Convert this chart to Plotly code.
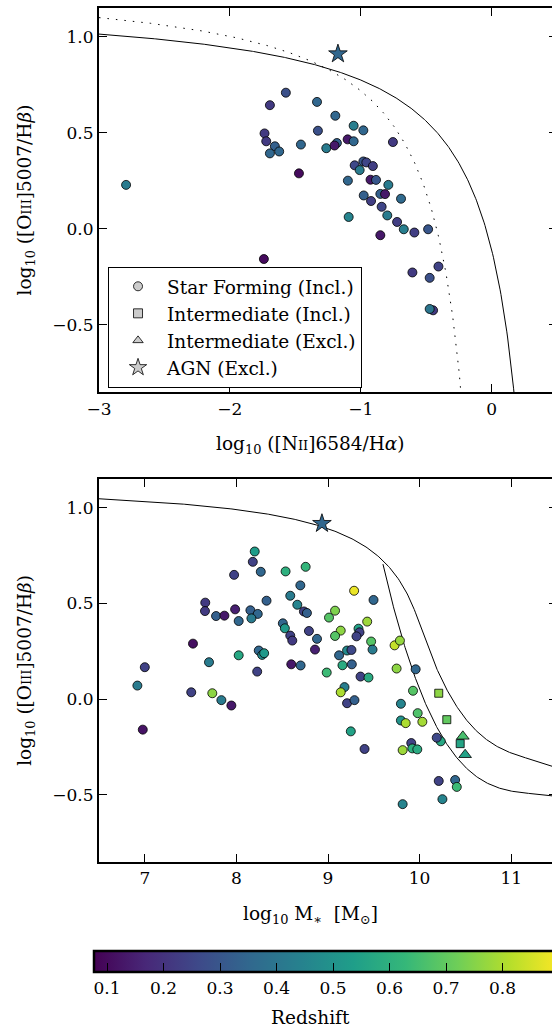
import numpy as np
import plotly.graph_objects as go

FONT = "DejaVu Serif"

# ---------------- data: top panel (BPT) ----------------
bpt_x = [-1.572, -1.694, -1.334, -1.194, -1.054, -0.980, -1.735, -1.327, -1.722, -1.656,
         -1.694, -1.623, -1.457, -1.182, -1.263, -1.200, -1.100, -1.054, -0.754, -1.472,
         -1.046, -0.980, -0.957, -0.907, -1.008, -1.098, -0.925, -0.883, -0.789, -0.850,
         -0.814, -0.977, -0.921, -0.692, -0.840, -1.092, -0.797, -0.722, -0.671, -0.590,
         -0.485, -0.850, -1.740, -0.406, -0.605, -0.473, -0.447, -0.473, -2.793]
bpt_y = [0.709, 0.644, 0.661, 0.589, 0.537, 0.513, 0.497, 0.511, 0.456, 0.430,
         0.393, 0.403, 0.439, 0.447, 0.420, 0.434, 0.466, 0.456, 0.452, 0.289,
         0.331, 0.351, 0.346, 0.327, 0.306, 0.251, 0.256, 0.255, 0.229, 0.182,
         0.181, 0.174, 0.145, 0.157, 0.115, 0.062, 0.070, 0.036, -0.002, -0.019,
         -0.002, -0.033, -0.157, -0.196, -0.227, -0.255, -0.424, -0.417, 0.229]
bpt_z = [0.28, 0.22, 0.35, 0.35, 0.43, 0.35, 0.22, 0.28, 0.22, 0.33,
         0.35, 0.35, 0.35, 0.33, 0.42, 0.13, 0.13, 0.35, 0.22, 0.10,
         0.26, 0.30, 0.25, 0.23, 0.42, 0.35, 0.13, 0.30, 0.42, 0.33,
         0.13, 0.33, 0.23, 0.36, 0.25, 0.45, 0.42, 0.23, 0.43, 0.23,
         0.30, 0.13, 0.10, 0.24, 0.22, 0.28, 0.22, 0.40, 0.42]
bpt_agn_x = [-1.174]
bpt_agn_y = [0.911]
bpt_agn_z = [0.35]

# ---------------- data: bottom panel (MEx) ----------------
mex_x = [8.200, 8.179, 8.266, 7.975, 8.537, 8.756, 8.698, 8.588, 8.665, 8.737,
         8.770, 8.329, 7.660, 7.657, 7.778, 7.869, 7.986, 8.025, 8.153, 8.233,
         8.164, 8.507, 8.529, 8.588, 8.610, 8.792, 8.880, 8.858, 7.526, 8.025,
         8.244, 8.281, 8.303, 7.701, 8.227, 8.599, 8.701, 7.507, 7.737, 7.836,
         7.945, 8.986, 9.077, 9.011, 9.139, 9.077, 9.333, 9.344, 9.311, 9.428,
         9.497, 9.285, 9.471, 9.486, 9.208, 9.256, 9.121, 9.158, 9.260, 9.355,
         9.442, 9.180, 9.139, 9.208, 9.289, 9.249, 9.399, 9.727, 9.785, 9.749,
         9.957, 9.928, 9.796, 9.979, 10.030, 9.796, 9.848, 9.909, 9.815, 9.920,
         9.975, 10.231, 10.187, 10.209, 10.388, 10.406, 10.249, 9.815, 7.000, 6.919,
         6.978]
mex_y = [0.771, 0.717, 0.665, 0.649, 0.667, 0.691, 0.594, 0.540, 0.493, 0.458,
         0.450, 0.514, 0.504, 0.460, 0.434, 0.436, 0.469, 0.408, 0.464, 0.445,
         0.422, 0.396, 0.370, 0.332, 0.306, 0.356, 0.315, 0.259, 0.290, 0.229,
         0.254, 0.231, 0.240, 0.193, 0.144, 0.182, 0.176, 0.036, 0.031, -0.005,
         -0.033, 0.139, 0.462, 0.426, 0.358, 0.330, 0.368, 0.349, 0.328, 0.405,
         0.518, 0.566, 0.301, 0.259, 0.254, 0.257, 0.229, 0.177, 0.182, 0.118,
         0.113, 0.063, 0.036, -0.021, -0.005, -0.168, -0.260, 0.281, 0.306, 0.160,
         0.156, 0.044, -0.024, -0.073, -0.118, -0.111, -0.125, -0.229, -0.266, -0.257,
         -0.262, -0.220, -0.201, -0.427, -0.422, -0.458, -0.522, -0.548, 0.167, 0.071,
         -0.159]
mex_z = [0.53, 0.24, 0.35, 0.24, 0.60, 0.62, 0.35, 0.42, 0.45, 0.24,
         0.33, 0.33, 0.22, 0.22, 0.33, 0.13, 0.15, 0.35, 0.33, 0.35,
         0.42, 0.35, 0.52, 0.24, 0.22, 0.24, 0.35, 0.15, 0.11, 0.57,
         0.35, 0.47, 0.52, 0.42, 0.24, 0.13, 0.35, 0.24, 0.76, 0.42,
         0.13, 0.64, 0.74, 0.68, 0.76, 0.68, 0.55, 0.24, 0.24, 0.78,
         0.35, 0.88, 0.68, 0.42, 0.47, 0.26, 0.35, 0.58, 0.33, 0.24,
         0.58, 0.43, 0.80, 0.24, 0.33, 0.55, 0.24, 0.83, 0.77, 0.76,
         0.35, 0.68, 0.45, 0.67, 0.79, 0.50, 0.80, 0.24, 0.78, 0.60,
         0.58, 0.57, 0.26, 0.24, 0.35, 0.64, 0.45, 0.45, 0.24, 0.42,
         0.12]
mex_int_incl_x = [10.209, 10.297, 10.443]
mex_int_incl_y = [0.031, -0.107, -0.232]
mex_int_incl_z = [0.76, 0.70, 0.56]
mex_int_excl_x = [10.472, 10.497]
mex_int_excl_y = [-0.194, -0.290]
mex_int_excl_z = [0.66, 0.55]
mex_agn_x = [8.934]
mex_agn_y = [0.917]
mex_agn_z = [0.35]

# ---------------- demarcation-line coefficients ----------------
KEWLEY01 = (0.61, 0.47, 1.19)      # y = a/(x-b)+c
KAUFFMANN03 = (0.61, 0.05, 1.30)
MEX_UPPER_LOW = (0.375, 10.5, 1.14)
MEX_UPPER_POLY = [410.24, -109.333, 9.71731, -0.288244]
MEX_LOWER_POLY = [352.066, -93.8249, 8.32651, -0.246416]
MEX_UPPER_BREAK = 10.0
MEX_LOWER_START = 9.6

CB_MIN, CB_MAX = 0.077, 0.9035
CB_TICKS = [0.1, 0.2, 0.3, 0.4, 0.5, 0.6, 0.7, 0.8]
LEGEND_NAMES = ["Star Forming (Incl.)", "Intermediate (Incl.)",
                "Intermediate (Excl.)", "AGN (Excl.)"]
LEGEND_SYMBOLS = ["circle", "square", "triangle-up", "star"]

XLAB_TOP = "log<sub>10</sub> ([N<span style='font-size:13px'>II</span>]6584/H<i>α</i>)"
XLAB_BOT = "log<sub>10</sub> M<sub>∗</sub>\u00a0\u00a0[M<sub>⊙</sub>]"
YLAB = "log<sub>10</sub> ([O<span style='font-size:13px'>III</span>]5007/H<i>β</i>)"
CB_LABEL = "Redshift"


def hyper(x, p):
    a, b, c = p
    return a / (x - b) + c


def poly(x, co):
    return sum(c * x ** i for i, c in enumerate(co))


fig = go.Figure()
line_style = dict(color="black", width=1)

xk = np.linspace(-3, 0.2, 500)
fig.add_trace(go.Scatter(x=xk, y=hyper(xk, KEWLEY01), mode="lines", line=line_style,
                         showlegend=False, hoverinfo="skip", xaxis="x", yaxis="y"))
xa = np.linspace(-3, -0.2, 500)
fig.add_trace(go.Scatter(x=xa, y=hyper(xa, KAUFFMANN03), mode="lines",
                         line=dict(color="black", width=1, dash="1.5px,7px"),
                         showlegend=False, hoverinfo="skip", xaxis="x", yaxis="y"))

xm1 = np.linspace(6.5, MEX_UPPER_BREAK, 300)
xm2 = np.linspace(MEX_UPPER_BREAK, 11.5, 300)
fig.add_trace(go.Scatter(x=np.concatenate([xm1, xm2]),
                         y=np.concatenate([hyper(xm1, MEX_UPPER_LOW), poly(xm2, MEX_UPPER_POLY)]),
                         mode="lines", line=line_style, showlegend=False, hoverinfo="skip",
                         xaxis="x2", yaxis="y2"))
xm3 = np.linspace(MEX_LOWER_START, 11.5, 300)
fig.add_trace(go.Scatter(x=xm3, y=poly(xm3, MEX_LOWER_POLY), mode="lines", line=line_style,
                         showlegend=False, hoverinfo="skip", xaxis="x2", yaxis="y2"))

edge = dict(color="black", width=0.8)


def pts(x, y, z, symbol, size, xa_, ya_):
    return go.Scatter(x=x, y=y, mode="markers", showlegend=False,
                      marker=dict(symbol=symbol, size=size, color=z, coloraxis="coloraxis",
                                  line=edge),
                      xaxis=xa_, yaxis=ya_)


fig.add_trace(pts(bpt_x, bpt_y, bpt_z, "circle", 9, "x", "y"))
fig.add_trace(pts(bpt_agn_x, bpt_agn_y, bpt_agn_z, "star", 14, "x", "y"))
fig.add_trace(pts(mex_x, mex_y, mex_z, "circle", 9, "x2", "y2"))
fig.add_trace(pts(mex_int_incl_x, mex_int_incl_y, mex_int_incl_z, "square", 8, "x2", "y2"))
fig.add_trace(pts(mex_int_excl_x, mex_int_excl_y, mex_int_excl_z, "triangle-up", 11, "x2", "y2"))
fig.add_trace(pts(mex_agn_x, mex_agn_y, mex_agn_z, "star", 14, "x2", "y2"))

for i, (nm, sym) in enumerate(zip(LEGEND_NAMES, LEGEND_SYMBOLS)):
    fig.add_trace(go.Scatter(x=[None], y=[None], mode="markers", name=nm,
                             legendgroup=f"g{i}", showlegend=True,
                             marker=dict(symbol=sym, size=13 if sym == "star" else 9,
                                         color="#cccccc", line=edge),
                             xaxis="x", yaxis="y"))

TICK_SIZE = 17
LABEL_SIZE = 18.5
axis_common = dict(showline=True, linewidth=2, linecolor="black", mirror="allticks",
                   ticks="inside", ticklen=8, tickwidth=1, tickcolor="black",
                   showgrid=False, zeroline=False,
                   tickfont=dict(size=TICK_SIZE, color="black", family=FONT))
title_font = dict(size=LABEL_SIZE, color="black", family=FONT)

fig.update_layout(
    width=565, height=1029,
    margin=dict(l=99, r=8, t=6, b=167),
    paper_bgcolor="white", plot_bgcolor="white",
    font=dict(family=FONT, color="black", size=LABEL_SIZE),
    xaxis=dict(domain=[0, 1], anchor="y", range=[-3, 0.5], dtick=1, tick0=0, **axis_common),
    yaxis=dict(domain=[0.5502, 1], anchor="x", range=[-0.85, 1.15], dtick=0.5, tick0=0,
               tickformat=".1f", title=dict(text=YLAB, font=title_font, standoff=16),
               **axis_common),
    xaxis2=dict(domain=[0, 1], anchor="y2", range=[6.5, 11.5], dtick=1, tick0=0, **axis_common),
    yaxis2=dict(domain=[0, 0.4486], anchor="x2", range=[-0.85, 1.15], dtick=0.5, tick0=0,
                tickformat=".1f", title=dict(text=YLAB, font=title_font, standoff=16),
                **axis_common),
    coloraxis=dict(
        colorscale="Viridis", cmin=CB_MIN, cmax=CB_MAX,
        colorbar=dict(orientation="h", x=-0.0109, xanchor="left", y=-0.1040, yanchor="top",
                      len=467, lenmode="pixels", thickness=21, thicknessmode="pixels",
                      outlinewidth=2.5, outlinecolor="black", xpad=0, ypad=0,
                      ticks="inside", ticklen=10, tickwidth=1, tickcolor="black",
                      tickvals=CB_TICKS, ticktext=[f"{t:.1f}" for t in CB_TICKS],
                      tickfont=dict(size=TICK_SIZE, family=FONT, color="black"))),
    legend=dict(x=0.0197, y=0.6970, xanchor="left", yanchor="top",
                bordercolor="black", borderwidth=1, bgcolor="white",
                font=dict(size=LABEL_SIZE, family=FONT, color="black"),
                tracegroupgap=0, itemwidth=48),
    annotations=[
        dict(text=XLAB_TOP, xref="paper", yref="paper", x=0.4607, y=0.4883,
             xanchor="center", yanchor="middle", showarrow=False, font=title_font),
        dict(text=XLAB_BOT, xref="paper", yref="paper", x=0.4607, y=-0.0619,
             xanchor="center", yanchor="middle", showarrow=False, font=title_font),
        dict(text=CB_LABEL, xref="paper", yref="paper", x=0.4607, y=-0.1822,
             xanchor="center", yanchor="middle", showarrow=False, font=title_font),
    ],
)

fig.write_html("out.html",
               post_script="document.body.style.margin='0';document.body.style.overflow='hidden';document.documentElement.style.overflow='hidden';")
